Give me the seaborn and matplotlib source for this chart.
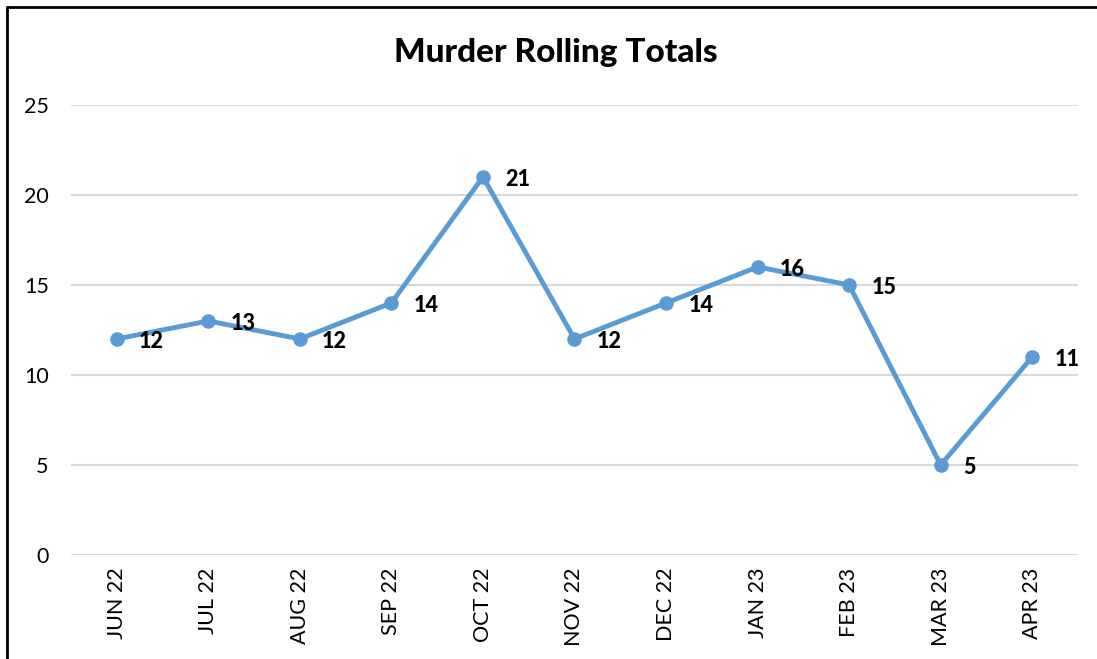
import matplotlib
matplotlib.use("Agg")
import matplotlib.pyplot as plt
from matplotlib.lines import Line2D
import seaborn as sns
import pandas as pd

months = ["JUN 22", "JUL 22", "AUG 22", "SEP 22", "OCT 22", "NOV 22",
          "DEC 22", "JAN 23", "FEB 23", "MAR 23", "APR 23"]
murders = [12, 13, 12, 14, 21, 12, 14, 16, 15, 5, 11]

df = pd.DataFrame({"month": months, "total": murders})
df["pos"] = range(len(df))

sns.set_style("white")
plt.rcParams["font.family"] = ["Lato", "DejaVu Sans"]
plt.rcParams["text.color"] = "black"
plt.rcParams["xtick.color"] = "black"
plt.rcParams["ytick.color"] = "black"

fig = plt.figure(figsize=(10.97, 6.59), dpi=100)
ax = fig.add_axes([0.0647, 0.1578, 0.918, 0.683])

blue = "#5B9BD5"
sns.lineplot(data=df, x="pos", y="total", ax=ax, color=blue, linewidth=3.5,
             marker="o", markersize=10.5, markeredgewidth=0)

for x, y in zip(df["pos"], df["total"]):
    ax.annotate(str(y), (x, y), xytext=(16, -2), textcoords="offset points",
                ha="left", va="center", fontsize=15.5, fontweight="black")

ax.set_xlim(-0.5, len(months) - 0.5)
ax.set_ylim(0, 25)
ax.set_yticks([0, 5, 10, 15, 20, 25])
ax.set_xticks(df["pos"])
ax.set_xticklabels(months, rotation=90, fontsize=15.5)
ax.tick_params(axis="y", labelsize=15.5, length=0, pad=16)
ax.tick_params(axis="x", length=0, pad=9)
ax.yaxis.grid(True, color="#D9D9D9", linewidth=1.5)
ax.set_axisbelow(True)
for s in ax.spines.values():
    s.set_visible(False)
ax.set_xlabel("")
ax.set_ylabel("")

fig.text(0.507, 0.921, "Murder Rolling Totals", ha="center", va="center",
         fontsize=24, fontweight="black")

# outer frame (left and top edges visible)
fig.add_artist(Line2D([7 / 1097, 7 / 1097], [0, 1 - 7 / 659],
                      transform=fig.transFigure, color="black", linewidth=2))
fig.add_artist(Line2D([7 / 1097, 1], [1 - 7 / 659, 1 - 7 / 659],
                      transform=fig.transFigure, color="black", linewidth=2))

fig.savefig("out.png", dpi=100)
